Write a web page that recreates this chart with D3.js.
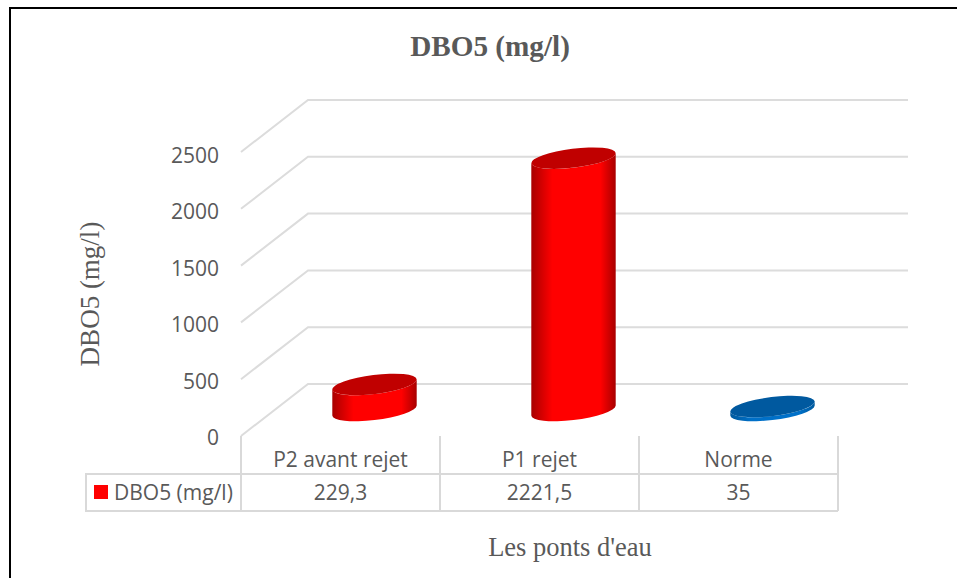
<!DOCTYPE html>
<html>
<head>
<meta charset="utf-8">
<style>
	body { margin: 0; background: #fff; }
	svg { display: block; }
	.grid { fill: none; stroke: #dcdcdc; stroke-width: 2; }
	.tbl { fill: none; stroke: #d9d9d9; stroke-width: 2; }
	.lab { font-family: "Open Sans", sans-serif; font-size: 21px; fill: #595959; }
	.serif { font-family: "Liberation Serif", serif; fill: #595959; }
</style>
<script src="https://d3js.org/d3.v7.min.js"></script>
</head>
<body>
<script>
var categories = ["P2 avant rejet", "P1 rejet", "Norme"];
var values = [229.3, 2221.5, 35];
var value_labels = ["229,3", "2221,5", "35"];
var y_ticks = [0, 500, 1000, 1500, 2000, 2500];
var series_name = "DBO5 (mg/l)";
var x_title = "Les ponts d'eau";
var chart_title = "DBO5 (mg/l)";

var width = 957, height = 578;
var depth_x = 67, depth_y = -52;   // offset from front to back wall
var rx = 42.5, ry = 9.5, tilt = -7;

var svg = d3.select("body").append("svg")
	.attr("width", width)
	.attr("height", height);

var y_scale = d3.scaleLinear().domain([0, 2500]).range([436, 152]);
var label_scale = d3.scaleLinear().domain([0, 2500]).range([445, 163]);   // tick label baselines
var x_scale = d3.scaleBand().domain(categories).range([241, 838]);

// chart frame, cut off by the picture on the right and bottom
svg.append("path")
	.attr("d", "M10,578V8H957")
	.attr("fill", "none")
	.attr("stroke", "#000")
	.attr("stroke-width", 2);

svg.append("text").attr("class", "serif")
	.attr("x", 490).attr("y", 56)
	.attr("text-anchor", "middle")
	.attr("font-size", 29.2).attr("font-weight", "bold")
	.text(chart_title);

// gridlines: side wall then back wall
svg.selectAll("path.grid")
	.data(y_ticks)
	.enter()
	.append("path")
		.attr("class", "grid")
		.attr("d", function(d) {
			var y = y_scale(d);
			return "M241," + y + "L" + (241 + depth_x) + "," + (y + depth_y) + "H908";
		});

svg.selectAll("text.ytick")
	.data(y_ticks)
	.enter()
	.append("text")
		.attr("class", "lab ytick")
		.attr("x", 219)
		.attr("y", function(d) { return label_scale(d); })
		.attr("text-anchor", "end")
		.text(function(d) { return d; });

svg.append("text").attr("class", "serif")
	.attr("transform", "translate(99,294) rotate(-90)")
	.attr("text-anchor", "middle")
	.attr("font-size", 27)
	.text(series_name);

// side gradients of the cylinders
var defs = svg.append("defs");
function side_gradient(id, dark, bright) {
	var g = defs.append("linearGradient").attr("id", id);
	g.append("stop").attr("offset", "0%").attr("stop-color", dark);
	g.append("stop").attr("offset", "25%").attr("stop-color", bright);
	g.append("stop").attr("offset", "82%").attr("stop-color", bright);
	g.append("stop").attr("offset", "100%").attr("stop-color", dark);
}
side_gradient("side_red", "#a80000", "#ff0000");
side_gradient("side_blue", "#005a9e", "#0070c8");

var phi = tilt * Math.PI / 180;
var ex = Math.sqrt(rx * rx * Math.cos(phi) * Math.cos(phi) + ry * ry * Math.sin(phi) * Math.sin(phi));
var ey = (rx * rx - ry * ry) * Math.sin(phi) * Math.cos(phi) / ex;

function bar_color(i) { return i == 2 ? "blue" : "red"; }

var bars = svg.selectAll("g.bar")
	.data(values)
	.enter()
	.append("g")
		.attr("class", "bar")
		.attr("transform", function(d, i) {
			return "translate(" + (x_scale(categories[i]) + x_scale.bandwidth() / 2 + depth_x / 2 + 0.5) + "," + (y_scale(0) + depth_y / 2 + 0.5) + ")";
		});

bars.append("path")
	.attr("fill", function(d, i) { return "url(#side_" + bar_color(i) + ")"; })
	.attr("d", function(d) {
		var h = y_scale(d) - y_scale(0);
		return "M" + (-ex) + "," + (h - ey) + "L" + (-ex) + "," + (-ey)
			+ "A" + rx + "," + ry + " " + tilt + " 0 0 " + ex + "," + ey
			+ "L" + ex + "," + (h + ey)
			+ "A" + rx + "," + ry + " " + tilt + " 0 1 " + (-ex) + "," + (h - ey)
			+ "Z";
	});

bars.append("ellipse")
	.attr("rx", rx)
	.attr("ry", ry)
	.attr("transform", function(d) {
		return "translate(0," + (y_scale(d) - y_scale(0)) + ") rotate(" + tilt + ")";
	})
	.attr("fill", function(d, i) { return i == 2 ? "#00599f" : "#c00000"; });

// data table
var rows = [436, 474, 511];
var cols = x_scale.domain().map(function(c) { return x_scale(c); }).concat([838]);
cols.forEach(function(x) {
	svg.append("line").attr("class", "tbl")
		.attr("x1", x).attr("x2", x)
		.attr("y1", rows[0]).attr("y2", rows[2]);
});
svg.append("path").attr("class", "tbl")
	.attr("d", "M241," + rows[1] + "H86V" + rows[2] + "H838M241," + rows[1] + "H838");

svg.selectAll("text.cat")
	.data(categories)
	.enter()
	.append("text")
		.attr("class", "lab cat")
		.attr("x", function(d) { return x_scale(d) + x_scale.bandwidth() / 2; })
		.attr("y", 467)
		.attr("text-anchor", "middle")
		.text(function(d) { return d; });

svg.selectAll("text.val")
	.data(value_labels)
	.enter()
	.append("text")
		.attr("class", "lab val")
		.attr("x", function(d, i) { return x_scale(categories[i]) + x_scale.bandwidth() / 2; })
		.attr("y", 500)
		.attr("text-anchor", "middle")
		.text(function(d) { return d; });

svg.append("rect")
	.attr("x", 94).attr("y", 485)
	.attr("width", 14).attr("height", 14)
	.attr("fill", "#ff0000");
svg.append("text").attr("class", "lab")
	.attr("x", 114).attr("y", 500)
	.text(series_name);

svg.append("text").attr("class", "serif")
	.attr("x", 570).attr("y", 556)
	.attr("text-anchor", "middle")
	.attr("font-size", 26.5)
	.text(x_title);
</script>
</body>
</html>
